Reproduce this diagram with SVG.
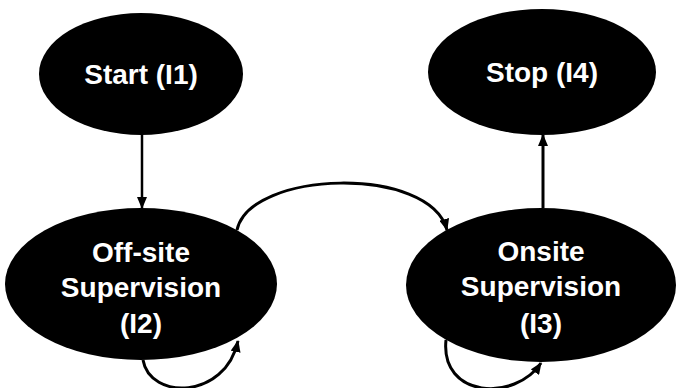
<svg xmlns="http://www.w3.org/2000/svg" width="676" height="388" viewBox="0 0 676 388">
  <defs>
    <marker id="arrow" markerUnits="userSpaceOnUse" markerWidth="12" markerHeight="10" refX="11" refY="5" orient="auto">
      <path d="M0,0 L12,5 L0,10 z" fill="#000"/>
    </marker>
    <style>
      .node { fill: #000; }
      .label { fill: #fff; font-family: "Liberation Sans", Arial, sans-serif; font-weight: bold; font-size: 28px; text-anchor: middle; }
      .edge { fill: none; stroke: #000; stroke-width: 3; marker-end: url(#arrow); }
      .edge.thin { stroke-width: 2.5; }
    </style>
  </defs>
  <rect width="676" height="388" fill="#fff"/>

  <g id="edges">
    <path class="edge thin" d="M142,134 L142,208"/>
    <path class="edge" d="M543,208 L543,135"/>
    <path class="edge" d="M237,230 C250,170 430,165 447,230"/>
    <path class="edge" d="M143,360 C150,400 225,400 238,341"/>
    <path class="edge" d="M446,340 C440,398 515,402 541,363"/>
  </g>

  <g id="start">
    <ellipse class="node" cx="141" cy="74" rx="102" ry="61"/>
    <text class="label" x="141" y="84">Start (I1)</text>
  </g>

  <g id="stop">
    <ellipse class="node" cx="542" cy="72" rx="114" ry="63"/>
    <text class="label" x="542" y="82">Stop (I4)</text>
  </g>

  <g id="offsite">
    <ellipse class="node" cx="141" cy="284" rx="136" ry="76"/>
    <text class="label" x="141" y="262">Off-site</text>
    <text class="label" x="141" y="297">Supervision</text>
    <text class="label" x="141" y="333">(I2)</text>
  </g>

  <g id="onsite">
    <ellipse class="node" cx="541" cy="285" rx="135" ry="77"/>
    <text class="label" x="541" y="261">Onsite</text>
    <text class="label" x="541" y="296">Supervision</text>
    <text class="label" x="541" y="333">(I3)</text>
  </g>
</svg>
